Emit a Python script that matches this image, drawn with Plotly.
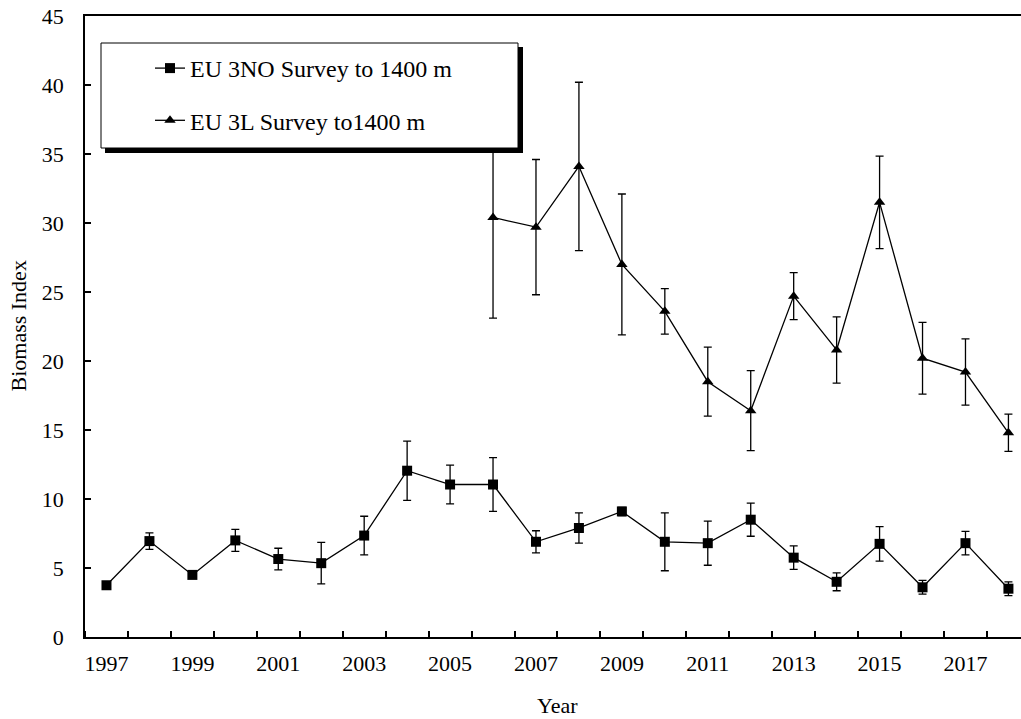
import plotly.graph_objects as go

# Survey years
years = list(range(1997, 2019))

# EU 3NO survey to 1400 m: biomass index and error (±)
no_index = [3.75, 6.95, 4.5, 7.0, 5.65, 5.35, 7.35, 12.05, 11.05, 11.05, 6.9,
            7.9, 9.1, 6.9, 6.8, 8.5, 5.75, 4.0, 6.75, 3.6, 6.8, 3.5]
no_err = [0.15, 0.6, 0.25, 0.8, 0.78, 1.5, 1.4, 2.15, 1.4, 1.95, 0.8,
          1.1, 0.3, 2.1, 1.6, 1.2, 0.85, 0.65, 1.25, 0.5, 0.85, 0.5]

# EU 3L survey to 1400 m (starts 2006)
l_years = list(range(2006, 2019))
l_index = [30.4, 29.7, 34.1, 27.0, 23.6, 18.5, 16.4, 24.7, 20.8, 31.5, 20.2, 19.2, 14.8]
l_err = [7.3, 4.9, 6.1, 5.1, 1.65, 2.5, 2.9, 1.7, 2.4, 3.35, 2.6, 2.4, 1.35]

# Tick labels on the year axis
tick_years = list(range(1997, 2019, 2))
tick_text = [str(y) for y in tick_years]

FONT = "Liberation Serif, Times New Roman, serif"

fig = go.Figure()

fig.add_trace(go.Scatter(
    x=years, y=no_index, mode="lines+markers", name="EU 3NO Survey to 1400 m",
    legendgroup="a",
    line=dict(color="black", width=1.3),
    marker=dict(symbol="square", size=10, color="black"),
    error_y=dict(type="data", array=no_err, visible=True, color="black",
                 thickness=1.3, width=4),
))
fig.add_trace(go.Scatter(
    x=l_years, y=l_index, mode="lines+markers", name="EU 3L Survey to1400 m",
    legendgroup="b",
    line=dict(color="black", width=1.3),
    marker=dict(symbol="triangle-up", size=10, color="black"),
    error_y=dict(type="data", array=l_err, visible=True, color="black",
                 thickness=1.3, width=4),
))

# plot area in pixels: left 85, right 1021, top 16, bottom 637
L, R, T, B = 85, 1021, 16, 637
W, H = R - L, B - T


def px_x(p):
    return (p - L) / W


def px_y(p):
    return (B - p) / H


# legend frame with drop shadow
fig.add_shape(type="rect", xref="paper", yref="paper", layer="above",
              x0=px_x(105), x1=px_x(523), y0=px_y(153), y1=px_y(47),
              fillcolor="black", line=dict(width=0))
fig.add_shape(type="rect", xref="paper", yref="paper", layer="above",
              x0=px_x(101), x1=px_x(518), y0=px_y(148), y1=px_y(43),
              fillcolor="white", line=dict(color="black", width=1))

fig.add_annotation(text="Year", xref="paper", yref="paper", x=px_x(557), y=0,
                   yshift=-(705 - B), showarrow=False, yanchor="middle",
                   font=dict(family=FONT, size=22, color="black"))
fig.add_annotation(text="Biomass Index", xref="paper", yref="paper", x=0, y=0.5,
                   xshift=-(L - 18), textangle=-90, showarrow=False,
                   xanchor="center", yanchor="middle",
                   font=dict(family=FONT, size=22, color="black"))

fig.update_layout(
    width=1021, height=719,
    margin=dict(l=L, r=1021 - R, t=T, b=719 - B),
    paper_bgcolor="white", plot_bgcolor="white",
    font=dict(family=FONT, size=22, color="black"),
    showlegend=True,
    legend=dict(x=px_x(150), y=px_y(46), xanchor="left", yanchor="top",
                bgcolor="rgba(0,0,0,0)", borderwidth=0,
                tracegroupgap=18, traceorder="grouped",
                font=dict(family=FONT, size=24, color="black")),
    xaxis=dict(
        range=[1996.5, 1996.5 + W / 42.95],
        tickmode="array", tickvals=tick_years, ticktext=tick_text,
        ticks="", showgrid=False, zeroline=False,
        showline=True, linecolor="black", linewidth=2, mirror=True,
        ticklabelstandoff=6,
        minor=dict(tickmode="linear", tick0=1996.5, dtick=1, ticks="inside",
                   ticklen=6, tickwidth=1.5, tickcolor="black", showgrid=False),
    ),
    yaxis=dict(
        range=[0, 45], tickmode="linear", tick0=0, dtick=5,
        ticks="inside", ticklen=6, tickwidth=1.5, tickcolor="black",
        showgrid=False, zeroline=False,
        showline=True, linecolor="black", linewidth=1.5,
        ticklabelstandoff=15,
    ),
)

fig.write_html("out.html")
